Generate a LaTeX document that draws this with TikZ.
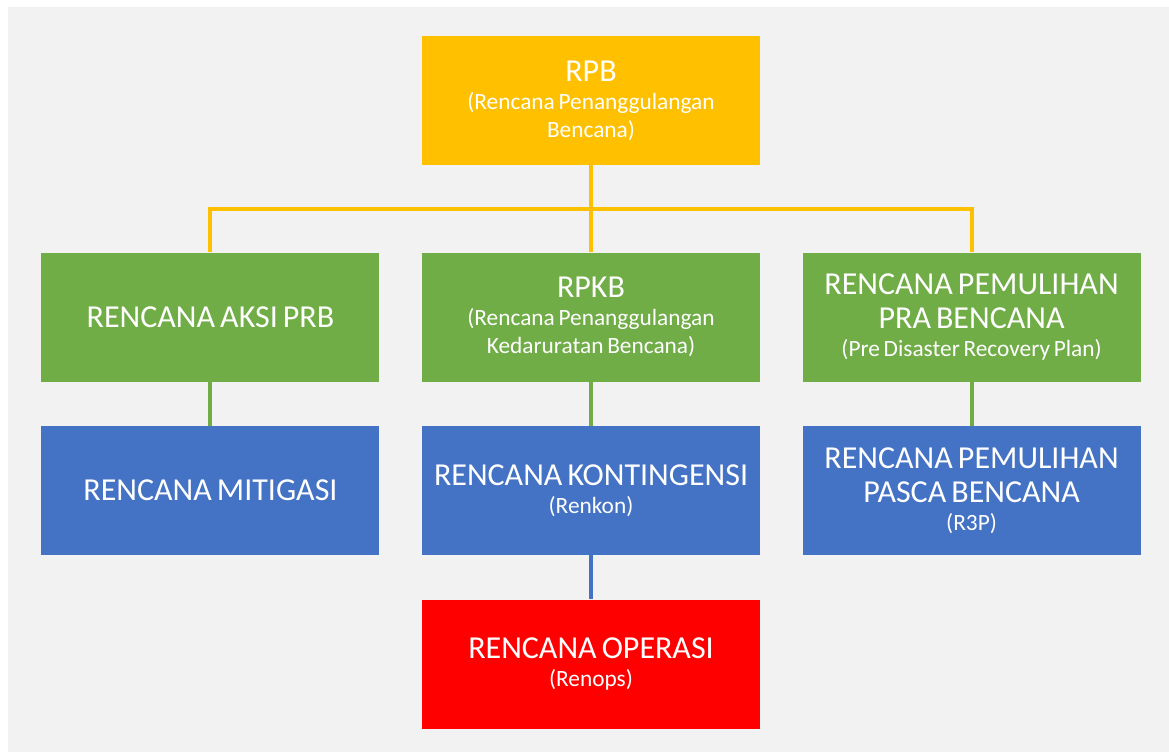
\documentclass[tikz,border=0pt]{standalone}
\usepackage{fontspec}
\setmainfont{Carlito}[WordSpace=0.7]
\usetikzlibrary{positioning}
\definecolor{PlanYellow}{HTML}{FFC000}
\definecolor{PlanGreen}{HTML}{70AD47}
\definecolor{PlanBlue}{HTML}{4472C4}
\definecolor{PlanRed}{HTML}{FF0000}
\definecolor{PlanBack}{HTML}{F2F2F2}
\newcommand{\subtxt}[1]{{\fontsize{17.5pt}{20pt}\selectfont #1}}

\begin{document}
\begin{tikzpicture}[
  x=0.75pt, y=-0.75pt,
  node distance=33pt and 31.5pt,
  plan/.style={rectangle, inner sep=0pt, minimum width=253.5pt, minimum height=96.75pt,
    text width=250pt, align=flush center, text=white, font=\fontsize{24pt}{21pt}\selectfont},
  link/.style={line width=3pt}
]
\useasboundingbox (0,0) rectangle (1169,752);
\fill[PlanBack] (8,7) rectangle (1169,752);

\node[plan, fill=PlanYellow] (rpb) at (591,100.5) {RPB\\\subtxt{(Rencana Penanggulangan}\\\subtxt{Bencana)}};
\node[plan, fill=PlanGreen, below=65.25pt of rpb] (rpkb) {RPKB\\\subtxt{(Rencana Penanggulangan}\\\subtxt{Kedaruratan Bencana)}};
\node[plan, fill=PlanGreen, left=of rpkb] (aksi) {RENCANA AKSI PRB};
\node[plan, fill=PlanGreen, right=of rpkb] (pra) {RENCANA PEMULIHAN\\[5pt]PRA BENCANA\\\subtxt{(Pre Disaster Recovery Plan)}};
\node[plan, fill=PlanBlue, below=of aksi] (mitigasi) {RENCANA MITIGASI};
\node[plan, fill=PlanBlue, below=of rpkb] (renkon) {RENCANA KONTINGENSI\\\subtxt{(Renkon)}};
\node[plan, fill=PlanBlue, below=of pra] (pasca) {RENCANA PEMULIHAN\\[5pt]PASCA BENCANA\\\subtxt{(R3P)}};
\node[plan, fill=PlanRed, below=of renkon] (renops) {RENCANA OPERASI\\\subtxt{(Renops)}};

\path (rpb.south) ++(0,44) coordinate (bus);
\draw[link, PlanYellow] (rpb) -- (rpkb);
\draw[link, PlanYellow] (aksi) |- (bus) -| (pra);
\draw[link, PlanGreen] (aksi) -- (mitigasi);
\draw[link, PlanGreen] (rpkb) -- (renkon);
\draw[link, PlanGreen] (pra) -- (pasca);
\draw[link, PlanBlue] (renkon) -- (renops);
\end{tikzpicture}
\end{document}
